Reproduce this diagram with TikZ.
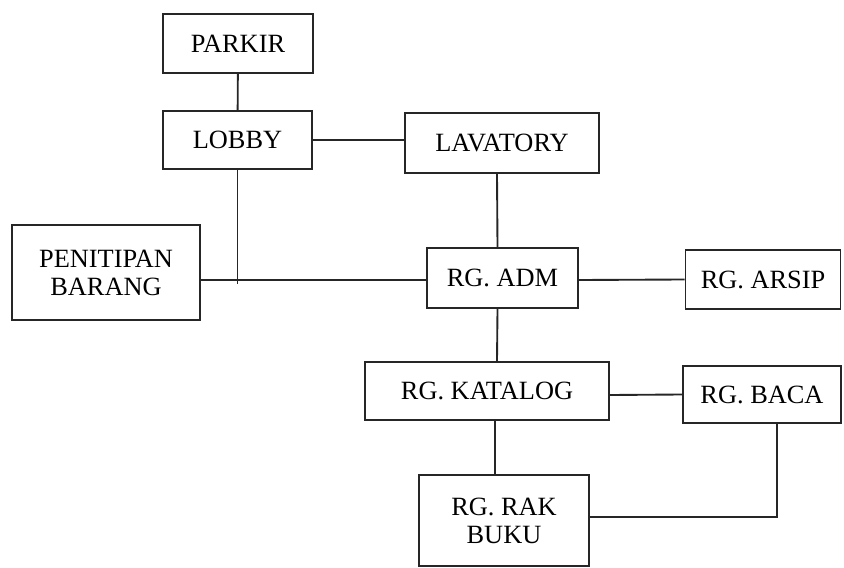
\documentclass[tikz,border=0pt]{standalone}
\usepackage{fontspec}
\setmainfont{Liberation Serif}
\usetikzlibrary{positioning,calc}

\begin{document}
\begin{tikzpicture}[
    x=0.03cm, y=-0.03cm,
    room/.style={rectangle, draw=black!85, line width=1.6pt, inner sep=0pt,
        font=\fontsize{22.5}{24}\selectfont, align=center},
    link/.style={draw=black!85, line width=1.6pt}
]
\useasboundingbox (0,0) rectangle (844,568);

% rooms, placed at their centres
\node[room, minimum width=4.5cm, minimum height=1.77cm] (parkir) at (238, 43.5) {PARKIR};
\node[room, minimum width=4.47cm, minimum height=1.74cm] (lobby) at (237.5, 140) {LOBBY};
\node[room, minimum width=5.82cm, minimum height=1.8cm] (lavatory) at (502, 143) {LAVATORY};
\node[room, minimum width=5.64cm, minimum height=2.85cm] (penitipan) at (106, 272.5) {PENITIPAN\\BARANG};
\node[room, minimum width=4.53cm, minimum height=1.8cm] (adm) at (502.5, 278) {RG. ADM};
\node[room, minimum width=4.65cm, minimum height=1.77cm] (arsip) at (763, 279.5) {RG. ARSIP};
\node[room, minimum width=7.32cm, minimum height=1.74cm] (katalog) at (487, 391) {RG. KATALOG};
\node[room, minimum width=4.74cm, minimum height=1.71cm] (baca) at (762, 394.5) {RG. BACA};
\node[room, minimum width=5.1cm, minimum height=2.73cm] (rakbuku) at (504, 520.5) {RG. RAK\\BUKU};

% junctions
\coordinate (lobbyjoin) at ($(lobby.south)+(0,114)$);
\coordinate (bacacorner) at ($(baca.south)+(15,93)$);

% connections
\draw[link] (parkir) -- (lobby);
\draw[link] (lobby) -- (lobby -| lavatory.west);
\draw[link] (lobby.south) -- (lobbyjoin);
\draw[link] ($(penitipan.east)+(0,7.5)$) -- ($(adm.west)+(0,2)$);
\draw[link] ($(lavatory.south)+(-5,0)$) -- ($(adm.north)+(-5,0)$);
\draw[link] ($(adm.east)+(0,2)$) -- (arsip.west);
\draw[link] ($(adm.south)+(-5,0)$) -- ($(katalog.north)+(10,0)$);
\draw[link] ($(katalog.east)+(0,4)$) -- (baca.west);
\draw[link] ($(katalog.south)+(8,0)$) -- ($(rakbuku.north)+(-9,0)$);
\draw[link] ($(baca.south)+(15,0)$) -- (bacacorner) -- (bacacorner -| rakbuku.east);

\end{tikzpicture}
\end{document}
